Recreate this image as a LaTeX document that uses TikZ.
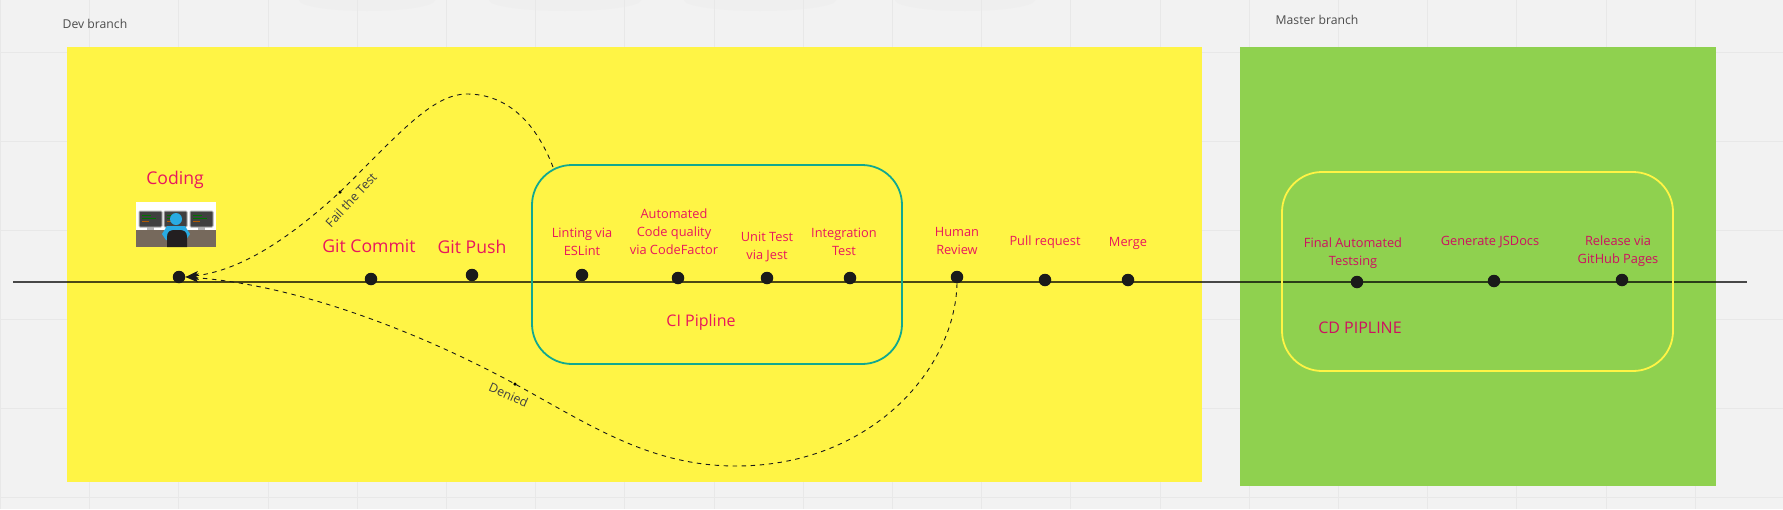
\documentclass[tikz,border=0pt]{standalone}
\usepackage{fontspec}
\setmainfont{Open Sans}
\usepackage{xcolor}
\usetikzlibrary{arrows.meta, positioning}
\definecolor{boardbg}{HTML}{F2F2F2}
\definecolor{boardgrid}{HTML}{E8E8E8}
\definecolor{boardsmudge}{HTML}{EFEFEF}
\definecolor{devyellow}{HTML}{FFF445}
\definecolor{mastergreen}{HTML}{8FD14F}
\definecolor{citeal}{HTML}{12A88F}
\definecolor{labelpink}{HTML}{E8175D}
\definecolor{cdpink}{HTML}{CE1060}
\definecolor{dotblack}{HTML}{1A1A1A}
\definecolor{deskbrown}{HTML}{76695C}
\definecolor{coderblue}{HTML}{29ABE2}
\definecolor{chairblack}{HTML}{231F20}
\tikzset{
  stagedot/.style={circle, fill=dotblack, inner sep=0pt, minimum size=12.5pt},
  tinydot/.style={circle, fill=black, inner sep=0pt, minimum size=3.5pt},
  bigstage/.style={text=labelpink, inner sep=0pt, font=\fontsize{17.6}{20}\selectfont},
  stage/.style={text=labelpink, inner sep=0pt, align=center, font=\fontsize{12.8}{18}\selectfont},
  cdstage/.style={stage, text=cdpink},
  branchname/.style={text=black!70, inner sep=0pt, font=\fontsize{12.2}{14}\selectfont},
  curvetext/.style={text=black!75, inner sep=0pt, font=\fontsize{12.4}{14}\selectfont},
  pipebox/.style={draw, rounded corners=40pt, inner sep=0pt, line width=1.8pt},
  backflow/.style={draw=black!90, line width=0.9pt, dash pattern=on 4.5pt off 4.5pt,
    -{Stealth[length=13pt, width=9pt, inset=3pt]}},
}
\begin{document}
\begin{tikzpicture}[x=1pt, y=-1pt]
  \useasboundingbox (0,0) rectangle (1783,509);
  % board and its grid
  \fill[boardbg] (0,0) rectangle (1783,509);
  \foreach \cx/\rx in {367/68, 565/76, 760/76, 965/70}
    \fill[boardsmudge] (\cx,0) ellipse (\rx pt and 11pt);
  \foreach \gx in {0,...,19}
    \draw[boardgrid, line width=1pt] ({\gx*89.2+0.4},0) -- ++(0,509);
  \foreach \gy in {52,141,230,319,408,497}
    \draw[boardgrid, line width=1pt] (0,\gy) -- (1783,\gy);
  % branch panels
  \fill[devyellow] (67,47) rectangle (1202,482);
  \fill[mastergreen] (1239.5,47) rectangle (1716,486);
  \node[branchname] (devname) at (95,24) {Dev branch};
  \node[branchname] (mastername) at (1317,20) {Master branch};
  % the time line
  \coordinate (linestart) at (13,282);
  \coordinate (lineend) at (1747,282);
  \draw[black, opacity=0.7, line width=1.2pt] (linestart) -- (lineend);
  % pipelines
  \node[pipebox, draw=citeal, minimum width=370pt, minimum height=199pt] (ci) at (717,264.5) {};
  \node[pipebox, draw=devyellow, minimum width=391pt, minimum height=199pt] (cd) at (1477.5,271.5) {};
  \node[bigstage, font=\fontsize{16}{18}\selectfont] (cilabel) at (701,322) {CI Pipline};
  \node[bigstage, text=cdpink, font=\fontsize{16}{18}\selectfont] (cdlabel) at (1360,328) {CD PIPLINE};
  % dots on the line
  \node[stagedot] (coding) at (179,277) {};
  \node[stagedot] (commit) at (371,279) {};
  \node[stagedot] (push) at (472,275) {};
  \node[stagedot] (lint) at (582,275) {};
  \node[stagedot] (quality) at (678,278) {};
  \node[stagedot] (unit) at (767,278) {};
  \node[stagedot] (integration) at (850,278) {};
  \node[stagedot] (human) at (957,277) {};
  \node[stagedot] (pull) at (1045,280) {};
  \node[stagedot] (merge) at (1128,280) {};
  \node[stagedot] (final) at (1357,282) {};
  \node[stagedot] (jsdocs) at (1494,281) {};
  \node[stagedot] (release) at (1622,280) {};
  % labels
  \node[bigstage] (codinglabel) at (175,180) {Coding};
  \node[bigstage] (commitlabel) at (369,246.5) {Git Commit};
  \node[bigstage] (pushlabel) at (472,246.5) {Git Push};
  \node[stage] (lintlabel) at (582,242) {Linting via\\ESLint};
  \node[stage] (qualitylabel) at (674,231.5) {Automated\\Code quality\\via CodeFactor};
  \node[stage] (unitlabel) at (767,247.5) {Unit Test\\via Jest};
  \node[stage] (integrationlabel) at (844,242) {Integration\\Test};
  \node[stage] (humanlabel) at (957,240.5) {Human\\Review};
  \node[stage] (pulllabel) at (1045,242.5) {Pull request};
  \node[stage] (mergelabel) at (1128,243) {Merge};
  \node[cdstage] (finallabel) at (1353,253.5) {Final Automated\\Testsing};
  \node[cdstage] (jsdocslabel) at (1490,242.5) {Generate JSDocs};
  \node[cdstage] (releaselabel) at (1618,251.5) {Release via\\GitHub Pages};
  % the coder at the desk
  \fill[white] (136,202) rectangle (216,247);
  \fill[deskbrown] (136,230) rectangle (216,247);
  \foreach \mx in {139,164,190} {
    \fill[black!30] (\mx+8,227) rectangle (\mx+15,230);
    \draw[black!30, fill=black!75, line width=1pt, rounded corners=1pt] (\mx,211) rectangle (\mx+23,227);
    \draw[green!45!black, line width=0.6pt] (\mx+3,215) -- ++(9,0) (\mx+3,218) -- ++(14,0);
    \draw[orange!70!black, line width=0.6pt] (\mx+3,221) -- ++(7,0);
  }
  \fill[coderblue] (162,234) -- (167,226) -- (185,226) -- (190,234) -- (186,240) -- (166,240) -- cycle;
  \fill[coderblue] (176,219) circle (6pt);
  \fill[chairblack] (167,247) -- (167,237) .. controls (167,232) and (170,230) .. (174,230) -- (180,230)
    .. controls (184,230) and (187,232) .. (187,237) -- (187,247) -- cycle;
  % the two ways back
  \coordinate (failstart) at (553,167);
  \coordinate (failpeak) at (467,94);
  \node[tinydot] (failmid) at (340,192) {};
  \draw[backflow] (failstart) .. controls (535,120) and (505,94) .. (failpeak)
    .. controls (432,94) and (398,135) .. (failmid.center)
    .. controls (295,233) and (245,270) .. (coding.east);
  \node[curvetext, rotate=47] (failtext) at (351,200) {Fail the Test};
  \coordinate (deniedlow) at (736,466);
  \node[tinydot] (deniedmid) at (515,384) {};
  \draw[backflow] (human.south) .. controls (955,370) and (870,466) .. (deniedlow)
    .. controls (650,466) and (590,425) .. (deniedmid.center)
    .. controls (425,335) and (300,285) .. (coding.east);
  \node[curvetext, rotate=-24] (deniedtext) at (508.6,395) {Denied};
\end{tikzpicture}
\end{document}
